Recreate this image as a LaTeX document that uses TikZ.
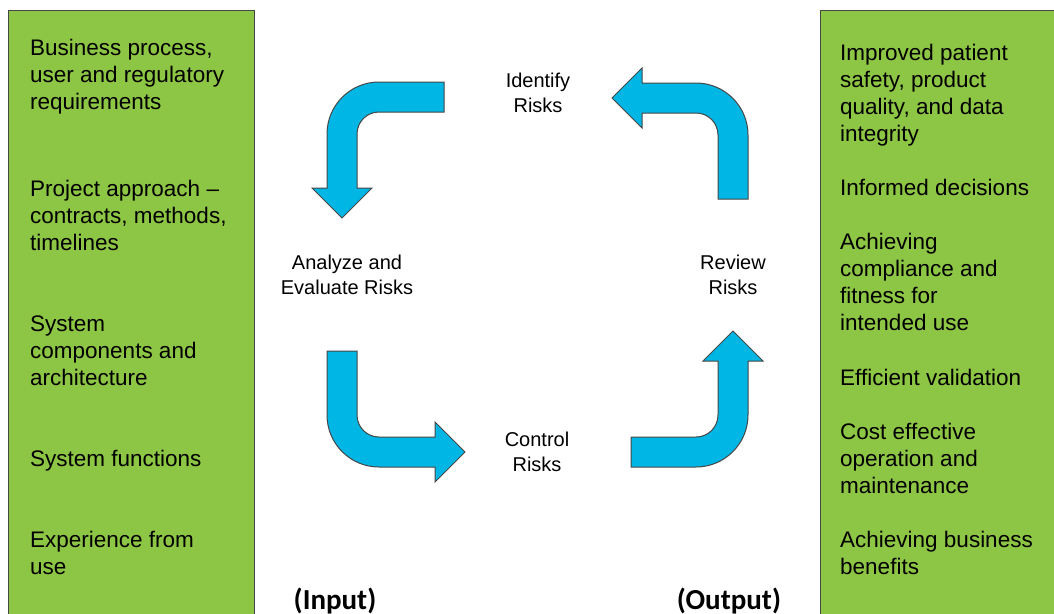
\documentclass[tikz,border=0pt]{standalone}
\usepackage{fontspec}
\setmainfont{Liberation Sans}
\newfontfamily\calib{Carlito}
\definecolor{boxgreen}{RGB}{141,198,68}
\definecolor{arrowblue}{RGB}{0,182,228}
\definecolor{edgegray}{RGB}{70,70,70}
\begin{document}
\begin{tikzpicture}[x=1pt,y=-1pt,
  panel/.style={fill=boxgreen,draw=edgegray,line width=1pt},
  blockarrow/.style={fill=arrowblue,draw=edgegray,line width=1pt,line join=miter},
  sidetext/.style={anchor=base west,align=left,inner sep=0pt,font=\fontsize{22.5}{27}\selectfont},
  steptext/.style={anchor=base,align=center,inner sep=0pt,font=\fontsize{20}{25}\selectfont},
  iolabel/.style={anchor=base,inner sep=0pt,font=\calib\bfseries\fontsize{29}{34}\selectfont}]
\useasboundingbox (0,0) rectangle (1054,613);
\clip (0,0) rectangle (1054,613);
\fill[white] (0,0) rectangle (1054,613);
% panels
\draw[panel] (8,10) rectangle (254,630);
\draw[panel] (820,10) rectangle (1070,630);
% left texts (positions are the baseline of the last line)
\node[sidetext] (in1) at (30,109) {Business process,\\user and regulatory\\requirements};
\node[sidetext] (in2) at (30,250) {Project approach --\\contracts, methods,\\timelines};
\node[sidetext] (in3) at (30,385) {System\\components and\\architecture};
\node[sidetext] (in4) at (30,466) {System functions};
\node[sidetext] (in5) at (30,574) {Experience from\\use};
% right texts
\node[sidetext] (out1) at (840,141) {Improved patient\\safety, product\\quality, and data\\integrity};
\node[sidetext] (out2) at (840,195) {Informed decisions};
\node[sidetext] (out3) at (840,330) {Achieving\\compliance and\\fitness for\\intended use};
\node[sidetext] (out4) at (840,385) {Efficient validation};
\node[sidetext] (out5) at (840,493) {Cost effective\\operation and\\maintenance};
\node[sidetext] (out6) at (840,574) {Achieving business\\benefits};
% step labels
\node[steptext] (identify) at (538,112) {Identify\\Risks};
\node[steptext] (analyze) at (347,294) {Analyze and\\Evaluate Risks};
\node[steptext] (review) at (733,294) {Review\\Risks};
\node[steptext] (control) at (537,471) {Control\\Risks};
% io labels
\node[iolabel] (input) at (335,609) {(Input)};
\node[iolabel] (output) at (729,609) {(Output)};
% arrow: identify -> analyze
\draw[blockarrow] (444,82) -- (379,82) .. controls (350.3,82) and (327,105.3) .. (327,134)
  -- (327,188) -- (312,188) -- (342,218) -- (372,188) -- (357,188) -- (357,134)
  .. controls (357,121.85) and (366.85,112) .. (379,112) -- (444,112) -- cycle;
% arrow: review -> identify
\draw[blockarrow] (748,199) -- (748,135) .. controls (748,106.3) and (724.7,83) .. (696,83)
  -- (642,83) -- (642,68) -- (612,98) -- (642,128) -- (642,113) -- (696,113)
  .. controls (708.15,113) and (718,122.85) .. (718,135) -- (718,199) -- cycle;
% arrow: analyze -> control
\draw[blockarrow] (327,351) -- (327,415) .. controls (327,443.7) and (350.3,467) .. (379,467)
  -- (435,467) -- (435,482) -- (465,452) -- (435,422) -- (435,437) -- (379,437)
  .. controls (366.85,437) and (357,427.15) .. (357,415) -- (357,351) -- cycle;
% arrow: control -> review
\draw[blockarrow] (631,467) -- (696,467) .. controls (724.7,467) and (748,443.7) .. (748,415)
  -- (748,361) -- (763,361) -- (733,331) -- (703,361) -- (718,361) -- (718,415)
  .. controls (718,427.15) and (708.15,437) .. (696,437) -- (631,437) -- cycle;
\end{tikzpicture}
\end{document}
